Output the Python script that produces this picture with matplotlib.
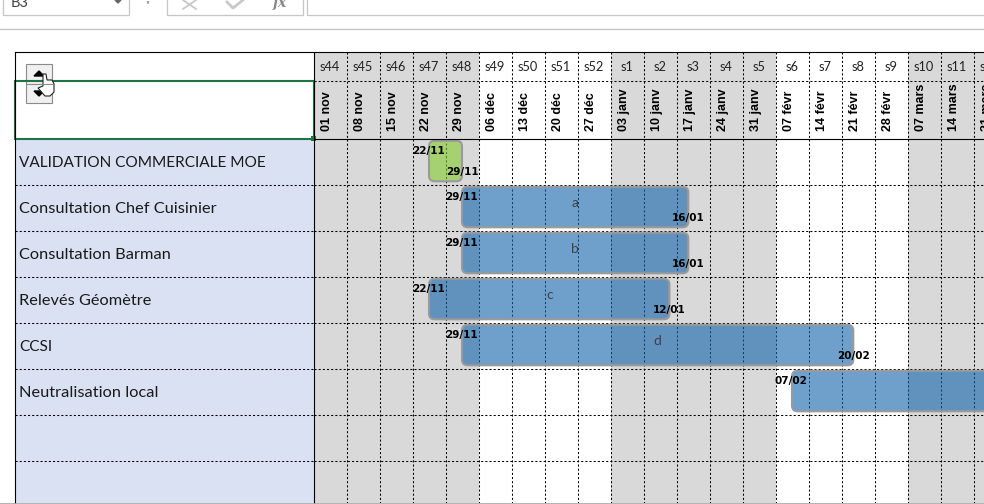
import matplotlib
matplotlib.use("Agg")
import matplotlib.pyplot as plt
import matplotlib.dates as mdates
from matplotlib.patches import FancyBboxPatch, Rectangle, Polygon
from datetime import datetime, timedelta

# table data
first_week = datetime(2021, 11, 1)
week_labels = ["s44", "s45", "s46", "s47", "s48", "s49", "s50", "s51", "s52", "s1", "s2",
               "s3", "s4", "s5", "s6", "s7", "s8", "s9", "s10", "s11", "s12"]
date_labels = ["01 nov", "08 nov", "15 nov", "22 nov", "29 nov", "06 déc", "13 déc", "20 déc",
               "27 déc", "03 janv", "10 janv", "17 janv", "24 janv", "31 janv", "07 févr",
               "14 févr", "21 févr", "28 févr", "07 mars", "14 mars", "21 mars"]
tasks = ["VALIDATION COMMERCIALE MOE", "Consultation Chef Cuisinier", "Consultation Barman",
         "Relevés Géomètre", "CCSI", "Neutralisation local", "", ""]
starts = ["22/11/2021", "29/11/2021", "29/11/2021", "22/11/2021", "29/11/2021", "07/02/2022"]
ends = ["29/11/2021", "16/01/2022", "16/01/2022", "12/01/2022", "20/02/2022", "10/04/2022"]
notes = ["", "a", "b", "c", "d", ""]
bar_colors = ["#85cd30", "#1766ac", "#1766ac", "#1766ac", "#1766ac", "#1766ac"]

W, H = 984, 504
GREY = "#d9d9d9"
DOTS = (0, (2, 2))
LW = 0.75
COL_PX = 33
ROW_PX = 46
LEFT, HEAD_TOP, HEAD_MID, BODY_TOP, BOTTOM = 313.5, 52, 81, 138.5, 503

fig = plt.figure(figsize=(W / 100, H / 100), dpi=100, facecolor="white")


def axes_px(x0, y0, x1, y1, **kw):
    ax = fig.add_axes([x0 / W, 1 - y1 / H, (x1 - x0) / W, (y1 - y0) / H], **kw)
    ax.set_axis_off()
    return ax


# x axis is real dates, a column is centred on its monday
x0 = mdates.date2num(first_week) - 3.5
x1 = x0 + (W - LEFT) / COL_PX * 7
col_edges = [x0 + 7 * i for i in range(len(week_labels) + 1)]

head = axes_px(LEFT, HEAD_TOP, W, BODY_TOP)
head.set_xlim(x0, x1)
head.set_ylim(BODY_TOP - HEAD_TOP, 0)
body = axes_px(LEFT, BODY_TOP, W, BOTTOM)
body.set_xlim(x0, x1)
body.set_ylim((BOTTOM - BODY_TOP) / ROW_PX, 0)
names = axes_px(15, BODY_TOP, LEFT, BOTTOM)
names.set_xlim(0, LEFT - 15)
names.set_ylim((BOTTOM - BODY_TOP) / ROW_PX, 0)
names.add_patch(Rectangle((0, 0), LEFT - 15, 10, color="#d9e1f2", lw=0))

# grey columns alternate month by month
for i in range(len(week_labels)):
    day = first_week + timedelta(days=7 * i)
    if day.month in (11, 1, 3):
        head.axvspan(col_edges[i], col_edges[i + 1], color=GREY, lw=0, zorder=0)
        body.axvspan(col_edges[i], col_edges[i + 1], color=GREY, lw=0, zorder=0)
    center = mdates.date2num(day)
    head.text(center, 15, week_labels[i], ha="center", va="center", fontsize=9.2,
              family="Lato", color="#222222", clip_on=True)
    head.text(center - 0.6, 79, date_labels[i], ha="center", va="bottom", rotation=90,
              fontsize=9, family="Liberation Sans", weight="bold", color="black", clip_on=True)

for e in col_edges[1:]:
    head.plot([e, e], [0, BODY_TOP - HEAD_TOP], color="black", lw=LW, ls=DOTS, zorder=1)
    body.plot([e, e], [0, 10], color="black", lw=LW, ls=DOTS, zorder=1)
head.plot([x0, x1], [HEAD_MID - HEAD_TOP] * 2, color="black", lw=LW, ls=DOTS)

for r in range(1, len(tasks)):
    body.plot([x0, x1], [r, r], color="black", lw=LW, ls=DOTS, zorder=1)
    names.plot([0, LEFT - 15], [r, r], color="black", lw=LW, ls=DOTS, zorder=1)

for r, name in enumerate(tasks):
    # Lato runs narrower than the sheet font in lower case
    size = 11.1 if name.isupper() else 11.8
    names.text(4, r + 0.54, name, ha="left", va="center", fontsize=size, family="Lato", color="#1a1a1a")

# bars, see-through so that columns and grid show under them
for r in range(len(starts)):
    a = mdates.date2num(datetime.strptime(starts[r], "%d/%m/%Y"))
    b = mdates.date2num(datetime.strptime(ends[r], "%d/%m/%Y"))
    fill = matplotlib.colors.to_rgba(bar_colors[r], 0.62)
    bar = FancyBboxPatch((a, r + 0.05), b - a, 0.88, boxstyle="round,pad=0,rounding_size=1.2",
                         mutation_aspect=(1 / ROW_PX) / (1 / (COL_PX / 7)),
                         facecolor=fill, edgecolor="#9a9a9a", lw=1.5, zorder=2)
    body.add_patch(bar)
    body.text(a - 0.2, r + 0.28, starts[r][:5], ha="center", va="center", fontsize=7.5, weight="bold",
              family="DejaVu Sans", color="black", zorder=3, clip_on=True)
    body.text(b, r + 0.73, ends[r][:5], ha="center", va="center", fontsize=7.5, weight="bold",
              family="DejaVu Sans", color="black", zorder=3, clip_on=True)
    if notes[r]:
        body.text((a + b) / 2, r + 0.4, notes[r], ha="center", va="center", fontsize=10,
                  family="Lato", color="#404040", zorder=3)

# overlay in pixels: borders, selection and the excel toolbar
top = axes_px(0, 0, W, H, zorder=5)
top.set_xlim(0, W)
top.set_ylim(H, 0)
top.plot([15, W], [HEAD_TOP, HEAD_TOP], color="black", lw=0.8)
top.plot([15, 15], [HEAD_TOP, BOTTOM], color="black", lw=0.8)
top.plot([LEFT, LEFT], [HEAD_TOP, BOTTOM], color="black", lw=0.8)
top.plot([LEFT, W], [BODY_TOP, BODY_TOP], color="black", lw=0.8)
top.plot([0, W], [503.5, 503.5], color="#a6a6a6", lw=1.2)

# spin button under the selection frame
top.add_patch(Rectangle((26, 64), 26, 39, facecolor="#f0f0f0", edgecolor="#8a8a8a", lw=0.8))
top.plot([26, 52], [83.5, 83.5], color="#8a8a8a", lw=0.8)
top.add_patch(Polygon([[34, 76], [44, 76], [39, 71]], color="black"))
top.add_patch(Polygon([[34, 91], [44, 91], [39, 96]], color="black"))
top.add_patch(Rectangle((15, 81), 299, 58, fill=False, edgecolor="#217346", lw=1.5))
top.add_patch(Rectangle((311, 136), 5, 5, color="#217346", lw=0))
# hand cursor
top.add_patch(Polygon([[43, 74], [46, 74], [47, 80], [52, 80], [54, 84], [54, 92], [50, 96],
                       [45, 96], [38, 88], [43, 86]], facecolor="white", edgecolor="#222222", lw=0.8))

top.add_patch(Rectangle((3, -3), 126, 18, facecolor="white", edgecolor="#c6c6c6", lw=0.9))
top.text(11, 3, "B3", ha="left", va="center", fontsize=10.5, family="Lato", color="#444444")
top.add_patch(Polygon([[115, 0], [121, 0], [118, 3]], color="#666666"))
top.plot([148, 148], [1, 6], color="#a0a0a0", lw=1.6, ls=(0, (1.2, 1.6)))
top.add_patch(Rectangle((167, -3), 136, 18, facecolor="white", edgecolor="#c6c6c6", lw=0.9))
top.plot([183, 196], [0, 9], color="#c8c8c8", lw=1.3)
top.plot([196, 183], [0, 9], color="#c8c8c8", lw=1.3)
top.plot([227, 233, 243], [2, 8, 0], color="#c8c8c8", lw=2)
top.text(280, 3, "fx", ha="center", va="center", fontsize=10, style="italic", weight="bold",
         family="DejaVu Serif", color="#888888")
top.add_patch(Rectangle((307, -3), 700, 18, facecolor="white", edgecolor="#c6c6c6", lw=0.9))
top.plot([0, W], [28.5, 28.5], color="#c4c4c4", lw=1)

fig.savefig("out.png", dpi=100)
